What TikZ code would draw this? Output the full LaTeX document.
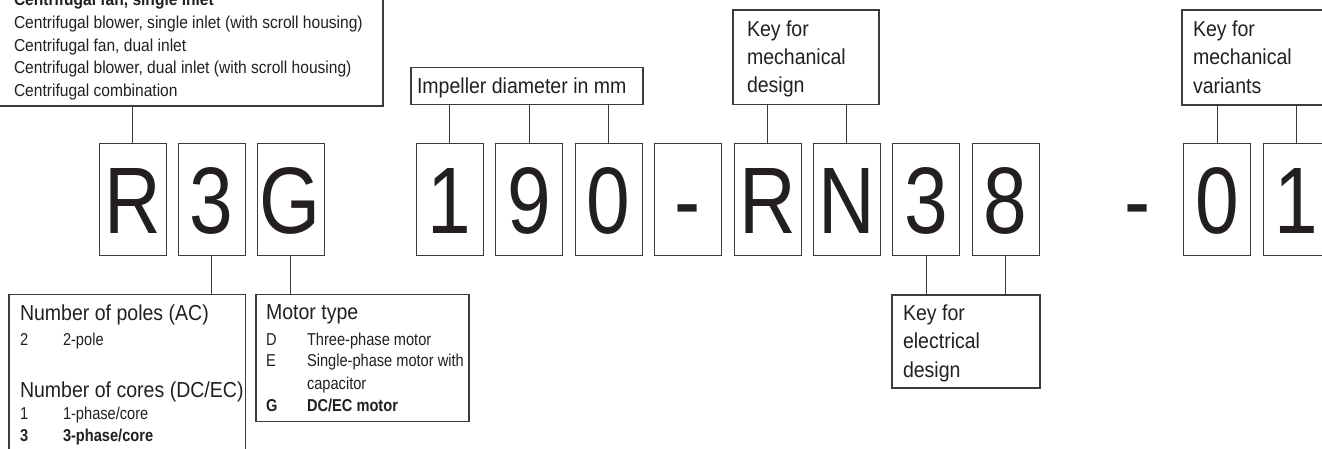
\documentclass[tikz,border=0pt]{standalone}
\usepackage{fontspec}
\setmainfont{Liberation Sans}[FakeStretch=0.9]
\newfontfamily\narrowfont{Liberation Sans}[FakeStretch=0.85]
\newfontfamily\bigfont{Liberation Sans}[FakeStretch=0.83]
\definecolor{ink}{HTML}{231F20}
\definecolor{rulec}{HTML}{3C3C3C}
\tikzset{
 every node/.style={inner sep=0pt, outer sep=0pt, text=ink},
 frame/.style={draw=rulec, line width=1.1pt, anchor=north west},
 digitbox/.style={draw=rulec, line width=1pt, minimum width=67pt, minimum height=112pt,
   text height=68pt, text depth=0pt, font=\bigfont\fontsize{94.5pt}{94.5pt}\selectfont},
 bigdash/.style={anchor=base, font=\bigfont\fontsize{94.5pt}{94.5pt}\selectfont},
 lbl/.style={anchor=base west, font=\fontsize{21.7pt}{26pt}\selectfont},
 sml/.style={anchor=base west, font=\narrowfont\fontsize{17.2pt}{20pt}\selectfont},
 smb/.style={anchor=base west, font=\narrowfont\fontsize{17.2pt}{20pt}\selectfont\bfseries},
 tl/.style={anchor=base west, font=\fontsize{17.3pt}{20pt}\selectfont},
 tlb/.style={anchor=base west, font=\fontsize{17.3pt}{20pt}\selectfont\bfseries},
 link/.style={draw=rulec, line width=1pt},
}
\begin{document}
\begin{tikzpicture}[x=1pt,y=-1pt]
\useasboundingbox (0,0) rectangle (1322,448);
% code characters
\node[digitbox] (cR)  at (132.5,199) {R};
\node[digitbox] (c3)  at (211.5,199) {3};
\node[digitbox] (cG)  at (290.5,199) {G};
\node[digitbox] (c1)  at (449.5,199) {1};
\node[digitbox] (c9)  at (529,199) {9};
\node[digitbox] (c0)  at (608.5,199) {0};
\node[digitbox] (cD)  at (688,199) {-};
\node[digitbox] (cR2) at (767.5,199) {R};
\node[digitbox] (cN)  at (846.5,199) {N};
\node[digitbox] (e3)  at (926,199) {3};
\node[digitbox] (e8)  at (1005.5,199) {8};
\node[bigdash]  (fd)  at (1138,233) {-};
\node[digitbox] (v0)  at (1217,199) {0};
\node[digitbox] (v1)  at (1296.5,199) {1};
% top-left box
\node[frame, minimum width=388pt, minimum height=126pt] (T) at (-5,-20) {};
\node[tlb] (t1) at (14,5.5) {Centrifugal fan, single inlet};
\node[tl] (t2) at (14,28.3) {Centrifugal blower, single inlet (with scroll housing)};
\node[tl] (t3) at (14,51.1) {Centrifugal fan, dual inlet};
\node[tl] (t4) at (14,73.9) {Centrifugal blower, dual inlet (with scroll housing)};
\node[tl] (t5) at (14,96.7) {Centrifugal combination};
% impeller box
\node[frame, minimum width=232pt, minimum height=37pt] (IM) at (411,67.5) {};
\node[lbl] (im) at (417,93) {Impeller diameter in mm};
% key for mechanical design
\node[frame, minimum width=146pt, minimum height=94.5pt] (KM) at (733,10) {};
\node[lbl] (km1) at (747,36) {Key for};
\node[lbl] (km2) at (747,64) {mechanical};
\node[lbl] (km3) at (747,92) {design};
% key for mechanical variants
\node[frame, minimum width=160pt, minimum height=95pt] (KV) at (1182,10) {};
\node[lbl] (kv1) at (1193,36) {Key for};
\node[lbl] (kv2) at (1193,64.5) {mechanical};
\node[lbl] (kv3) at (1193,93) {variants};
% key for electrical design
\node[frame, minimum width=148pt, minimum height=93pt] (KE) at (892,295) {};
\node[lbl] (ke1) at (903,320) {Key for};
\node[lbl] (ke2) at (903,348.5) {electrical};
\node[lbl] (ke3) at (903,377) {design};
% number of poles / cores
\node[frame, minimum width=236.5pt, minimum height=180pt] (NP) at (9,294.5) {};
\node[lbl] (np1) at (20,320) {Number of poles (AC)};
\node[sml] (np2a) at (20,345) {2};
\node[sml] (np2b) at (63,345) {2-pole};
\node[lbl] (np3) at (20,397.5) {Number of cores (DC/EC)};
\node[sml] (np4a) at (20,419.5) {1};
\node[sml] (np4b) at (63,419.5) {1-phase/core};
\node[smb] (np5a) at (20,441) {3};
\node[smb] (np5b) at (63,441) {3-phase/core};
% motor type
\node[frame, minimum width=213pt, minimum height=127pt] (MT) at (256,294.5) {};
\node[lbl] (mt1) at (266,319.5) {Motor type};
\node[sml] (mt2a) at (266,345) {D};
\node[sml] (mt2b) at (307,345) {Three-phase motor};
\node[sml] (mt3a) at (266,366.5) {E};
\node[sml] (mt3b) at (307,366.5) {Single-phase motor with};
\node[sml] (mt4b) at (307,389) {capacitor};
\node[smb] (mt5a) at (266,411) {G};
\node[smb] (mt5b) at (307,411) {DC/EC motor};
% connectors
\draw[link] (T.south -| cR.north) -- (cR.north);
\draw[link] (IM.south -| c1.north) -- (c1.north);
\draw[link] (IM.south -| c9.north) -- (c9.north);
\draw[link] (IM.south -| c0.north) -- (c0.north);
\draw[link] (KM.south -| cR2.north) -- (cR2.north);
\draw[link] (KM.south -| cN.north) -- (cN.north);
\draw[link] (KV.south -| v0.north) -- (v0.north);
\draw[link] (KV.south -| v1.north) -- (v1.north);
\draw[link] (e3.south) -- (e3.south |- KE.north);
\draw[link] (e8.south) -- (e8.south |- KE.north);
\draw[link] (c3.south) -- (c3.south |- NP.north);
\draw[link] (cG.south) -- (cG.south |- MT.north);
\end{tikzpicture}
\end{document}
